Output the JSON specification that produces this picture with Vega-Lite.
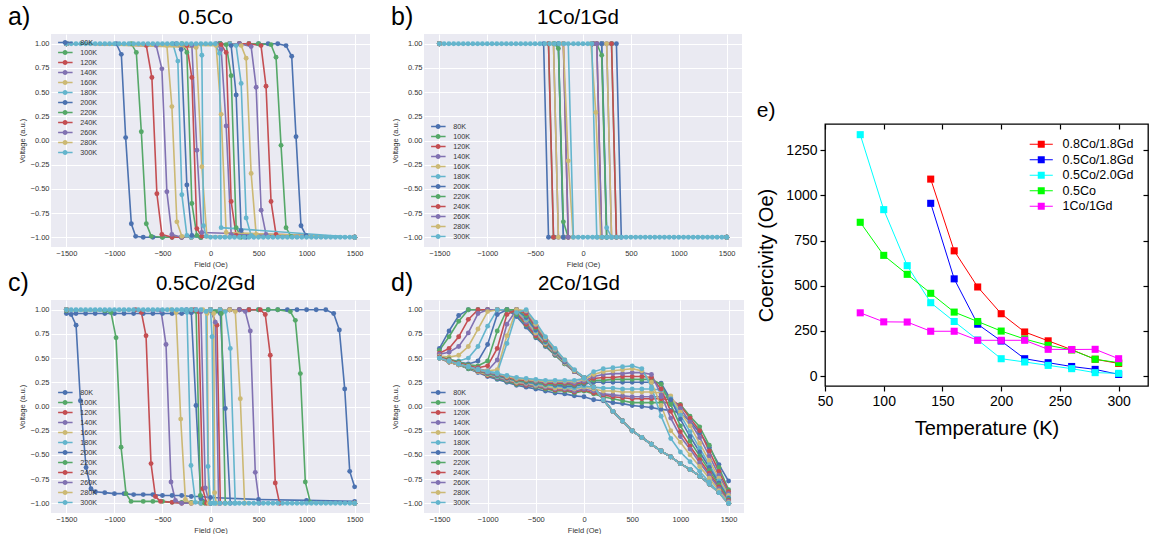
{
"$schema":"https://vega.github.io/schema/vega-lite/v6.json",
"background":"#ffffff",
"padding":{"left":8,"top":4,"right":0,"bottom":0},
"config":{"font":"Liberation Sans","view":{"stroke":null},"title":{"fontWeight":"normal","color":"#000000"},
"axis":{"labelFontSize":7.5,"labelColor":"#333333","titleFontSize":7.5,"titleFontWeight":"normal","titleColor":"#333333","domain":false,"ticks":false,"gridColor":"#ffffff","gridWidth":1,"gridOpacity":1,"labelPadding":2,"titlePadding":4,"labelFlush":false},
"legend":{"labelFont":"Liberation Sans"}},
"resolve":{"scale":{"color":"independent","stroke":"independent"},"legend":{"color":"independent","stroke":"independent"}},
"datasets":{
"a":[
{"t":80,"x":1500,"y":-1},{"t":80,"x":-100,"y":-1},{"t":80,"x":-200,"y":-1},{"t":80,"x":-300,"y":-1},{"t":80,"x":-400,"y":-1},{"t":80,"x":-500,"y":-1},{"t":80,"x":-600,"y":-1},{"t":80,"x":-700,"y":-1},{"t":80,"x":-779,"y":-0.99},{"t":80,"x":-824,"y":-0.86},{"t":80,"x":-883,"y":0.03},{"t":80,"x":-928,"y":0.89},{"t":80,"x":-980,"y":1},{"t":80,"x":-1500,"y":1},{"t":80,"x":100,"y":1},{"t":80,"x":200,"y":1},{"t":80,"x":300,"y":1},{"t":80,"x":400,"y":1},{"t":80,"x":500,"y":1},{"t":80,"x":600,"y":1},{"t":80,"x":700,"y":1},{"t":80,"x":786,"y":0.98},{"t":80,"x":845,"y":0.87},{"t":80,"x":890,"y":0.04},{"t":80,"x":942,"y":-0.88},{"t":80,"x":994,"y":-0.98},{"t":80,"x":1500,"y":-1},
{"t":100,"x":1500,"y":-1},{"t":100,"x":-100,"y":-1},{"t":100,"x":-200,"y":-1},{"t":100,"x":-300,"y":-1},{"t":100,"x":-400,"y":-1},{"t":100,"x":-500,"y":-1},{"t":100,"x":-616,"y":-0.99},{"t":100,"x":-668,"y":-0.86},{"t":100,"x":-720,"y":0.09},{"t":100,"x":-772,"y":0.91},{"t":100,"x":-824,"y":1},{"t":100,"x":-1500,"y":1},{"t":100,"x":100,"y":1},{"t":100,"x":200,"y":1},{"t":100,"x":300,"y":1},{"t":100,"x":400,"y":1},{"t":100,"x":500,"y":1},{"t":100,"x":630,"y":0.99},{"t":100,"x":682,"y":0.86},{"t":100,"x":734,"y":-0.05},{"t":100,"x":786,"y":-0.9},{"t":100,"x":838,"y":-0.99},{"t":100,"x":1500,"y":-1},
{"t":120,"x":1500,"y":-1},{"t":120,"x":-100,"y":-1},{"t":120,"x":-200,"y":-1},{"t":120,"x":-300,"y":-1},{"t":120,"x":-400,"y":-1},{"t":120,"x":-506,"y":-0.97},{"t":120,"x":-558,"y":-0.55},{"t":120,"x":-610,"y":0.65},{"t":120,"x":-668,"y":0.98},{"t":120,"x":-1500,"y":1},{"t":120,"x":100,"y":1},{"t":120,"x":200,"y":1},{"t":120,"x":300,"y":1},{"t":120,"x":400,"y":1},{"t":120,"x":526,"y":0.98},{"t":120,"x":578,"y":0.56},{"t":120,"x":630,"y":-0.63},{"t":120,"x":682,"y":-0.97},{"t":120,"x":1500,"y":-1},
{"t":140,"x":1500,"y":-1},{"t":140,"x":-100,"y":-1},{"t":140,"x":-200,"y":-1},{"t":140,"x":-300,"y":-1},{"t":140,"x":-402,"y":-0.97},{"t":140,"x":-454,"y":-0.53},{"t":140,"x":-506,"y":0.74},{"t":140,"x":-565,"y":0.98},{"t":140,"x":-1500,"y":1},{"t":140,"x":100,"y":1},{"t":140,"x":200,"y":1},{"t":140,"x":300,"y":1},{"t":140,"x":423,"y":0.97},{"t":140,"x":475,"y":0.55},{"t":140,"x":527,"y":-0.72},{"t":140,"x":578,"y":-0.97},{"t":140,"x":1500,"y":-1},
{"t":160,"x":1500,"y":-1},{"t":160,"x":-100,"y":-1},{"t":160,"x":-200,"y":-1},{"t":160,"x":-298,"y":-0.99},{"t":160,"x":-350,"y":-0.84},{"t":160,"x":-402,"y":0.35},{"t":160,"x":-454,"y":0.98},{"t":160,"x":-1500,"y":1},{"t":160,"x":100,"y":1},{"t":160,"x":200,"y":1},{"t":160,"x":320,"y":0.98},{"t":160,"x":371,"y":0.85},{"t":160,"x":423,"y":-0.34},{"t":160,"x":475,"y":-0.97},{"t":160,"x":1500,"y":-1},
{"t":180,"x":1500,"y":-1},{"t":180,"x":-100,"y":-1},{"t":180,"x":-200,"y":-1},{"t":180,"x":-246,"y":-0.98},{"t":180,"x":-298,"y":-0.56},{"t":180,"x":-340,"y":0.82},{"t":180,"x":-392,"y":1},{"t":180,"x":-1500,"y":1},{"t":180,"x":100,"y":1},{"t":180,"x":200,"y":1},{"t":180,"x":267,"y":0.98},{"t":180,"x":319,"y":0.59},{"t":180,"x":371,"y":-0.8},{"t":180,"x":423,"y":-0.98},{"t":180,"x":1500,"y":-1},
{"t":200,"x":1500,"y":-1},{"t":200,"x":-100,"y":-1},{"t":200,"x":-194,"y":-0.98},{"t":200,"x":-246,"y":-0.46},{"t":200,"x":-305,"y":0.94},{"t":200,"x":-355,"y":1},{"t":200,"x":-1500,"y":1},{"t":200,"x":100,"y":1},{"t":200,"x":215,"y":0.98},{"t":200,"x":267,"y":0.47},{"t":200,"x":319,"y":-0.93},{"t":200,"x":371,"y":-1},{"t":200,"x":1500,"y":-1},
{"t":220,"x":1500,"y":-1},{"t":220,"x":-100,"y":-1},{"t":220,"x":-142,"y":-0.98},{"t":220,"x":-194,"y":-0.65},{"t":220,"x":-246,"y":0.91},{"t":220,"x":-298,"y":1},{"t":220,"x":-1500,"y":1},{"t":220,"x":100,"y":1},{"t":220,"x":163,"y":0.99},{"t":220,"x":215,"y":0.67},{"t":220,"x":267,"y":-0.9},{"t":220,"x":319,"y":-1},{"t":220,"x":1500,"y":-1},
{"t":240,"x":1500,"y":-1},{"t":240,"x":-90,"y":-0.99},{"t":240,"x":-142,"y":-0.91},{"t":240,"x":-194,"y":0.65},{"t":240,"x":-246,"y":0.98},{"t":240,"x":-1500,"y":1},{"t":240,"x":111,"y":0.99},{"t":240,"x":163,"y":0.91},{"t":240,"x":215,"y":-0.63},{"t":240,"x":267,"y":-0.98},{"t":240,"x":1500,"y":-1},
{"t":260,"x":1500,"y":-1},{"t":260,"x":-90,"y":-0.95},{"t":260,"x":-142,"y":-0.1},{"t":260,"x":-194,"y":0.98},{"t":260,"x":-1500,"y":1},{"t":260,"x":60,"y":1},{"t":260,"x":111,"y":0.94},{"t":260,"x":163,"y":0.15},{"t":260,"x":215,"y":-0.97},{"t":260,"x":1500,"y":-1},
{"t":280,"x":1500,"y":-1},{"t":280,"x":-38,"y":-0.99},{"t":280,"x":-90,"y":-0.27},{"t":280,"x":-149,"y":0.96},{"t":280,"x":-1500,"y":1},{"t":280,"x":59,"y":0.98},{"t":280,"x":111,"y":0.27},{"t":280,"x":163,"y":-0.95},{"t":280,"x":1500,"y":-1},
{"t":300,"x":1500,"y":-1},{"t":300,"x":1450,"y":-1},{"t":300,"x":1400,"y":-1},{"t":300,"x":1350,"y":-1},{"t":300,"x":1300,"y":-1},{"t":300,"x":1250,"y":-1},{"t":300,"x":1200,"y":-1},{"t":300,"x":1150,"y":-1},{"t":300,"x":1100,"y":-1},{"t":300,"x":1050,"y":-1},{"t":300,"x":1000,"y":-1},{"t":300,"x":950,"y":-1},{"t":300,"x":900,"y":-1},{"t":300,"x":850,"y":-1},{"t":300,"x":800,"y":-1},{"t":300,"x":750,"y":-1},{"t":300,"x":700,"y":-1},{"t":300,"x":650,"y":-1},{"t":300,"x":600,"y":-1},{"t":300,"x":550,"y":-1},{"t":300,"x":500,"y":-1},{"t":300,"x":450,"y":-1},{"t":300,"x":400,"y":-1},{"t":300,"x":350,"y":-1},{"t":300,"x":300,"y":-1},{"t":300,"x":250,"y":-1},{"t":300,"x":200,"y":-1},{"t":300,"x":150,"y":-1},{"t":300,"x":100,"y":-1},{"t":300,"x":50,"y":-1},{"t":300,"x":0,"y":-1},{"t":300,"x":-45,"y":-0.99},{"t":300,"x":-73,"y":-0.88},{"t":300,"x":-90,"y":0.88},{"t":300,"x":-100,"y":1},{"t":300,"x":-150,"y":1},{"t":300,"x":-200,"y":1},{"t":300,"x":-250,"y":1},{"t":300,"x":-300,"y":1},{"t":300,"x":-350,"y":1},{"t":300,"x":-400,"y":1},{"t":300,"x":-450,"y":1},{"t":300,"x":-500,"y":1},{"t":300,"x":-550,"y":1},{"t":300,"x":-600,"y":1},{"t":300,"x":-650,"y":1},{"t":300,"x":-700,"y":1},{"t":300,"x":-750,"y":1},{"t":300,"x":-800,"y":1},{"t":300,"x":-850,"y":1},{"t":300,"x":-900,"y":1},{"t":300,"x":-950,"y":1},{"t":300,"x":-1000,"y":1},{"t":300,"x":-1050,"y":1},{"t":300,"x":-1100,"y":1},{"t":300,"x":-1150,"y":1},{"t":300,"x":-1200,"y":1},{"t":300,"x":-1250,"y":1},{"t":300,"x":-1300,"y":1},{"t":300,"x":-1350,"y":1},{"t":300,"x":-1400,"y":1},{"t":300,"x":-1450,"y":1},{"t":300,"x":-1500,"y":1},{"t":300,"x":-50,"y":1},{"t":300,"x":0,"y":1},{"t":300,"x":50,"y":1},{"t":300,"x":94,"y":0.9},{"t":300,"x":111,"y":-0.9},{"t":300,"x":1500,"y":-1}
],
"b":[
{"t":80,"x":1500,"y":-1},{"t":80,"x":-200,"y":-1},{"t":80,"x":-300,"y":-1},{"t":80,"x":-360,"y":-1},{"t":80,"x":-411,"y":1},{"t":80,"x":-1500,"y":1},{"t":80,"x":100,"y":1},{"t":80,"x":200,"y":1},{"t":80,"x":300,"y":1},{"t":80,"x":349,"y":1},{"t":80,"x":400,"y":-1},{"t":80,"x":1500,"y":-1},
{"t":100,"x":1500,"y":-1},{"t":100,"x":-200,"y":-1},{"t":100,"x":-308,"y":-1},{"t":100,"x":-360,"y":1},{"t":100,"x":-1500,"y":1},{"t":100,"x":100,"y":1},{"t":100,"x":200,"y":1},{"t":100,"x":298,"y":1},{"t":100,"x":349,"y":-1},{"t":100,"x":1500,"y":-1},
{"t":120,"x":1500,"y":-1},{"t":120,"x":-200,"y":-1},{"t":120,"x":-308,"y":-1},{"t":120,"x":-360,"y":1},{"t":120,"x":-1500,"y":1},{"t":120,"x":100,"y":1},{"t":120,"x":200,"y":1},{"t":120,"x":298,"y":1},{"t":120,"x":349,"y":-1},{"t":120,"x":1500,"y":-1},
{"t":140,"x":1500,"y":-1},{"t":140,"x":-200,"y":-1},{"t":140,"x":-257,"y":-1},{"t":140,"x":-308,"y":1},{"t":140,"x":-1500,"y":1},{"t":140,"x":100,"y":1},{"t":140,"x":200,"y":1},{"t":140,"x":247,"y":1},{"t":140,"x":298,"y":-1},{"t":140,"x":1500,"y":-1},
{"t":160,"x":1500,"y":-1},{"t":160,"x":-200,"y":-1},{"t":160,"x":-257,"y":-1},{"t":160,"x":-308,"y":1},{"t":160,"x":-1500,"y":1},{"t":160,"x":100,"y":1},{"t":160,"x":200,"y":1},{"t":160,"x":247,"y":1},{"t":160,"x":298,"y":-1},{"t":160,"x":1500,"y":-1},
{"t":180,"x":1500,"y":-1},{"t":180,"x":-205,"y":-1},{"t":180,"x":-257,"y":1},{"t":180,"x":-1500,"y":1},{"t":180,"x":100,"y":1},{"t":180,"x":195,"y":1},{"t":180,"x":247,"y":-0.9},{"t":180,"x":298,"y":-1},{"t":180,"x":1500,"y":-1},
{"t":200,"x":1500,"y":-1},{"t":200,"x":-205,"y":-1},{"t":200,"x":-257,"y":1},{"t":200,"x":-1500,"y":1},{"t":200,"x":100,"y":1},{"t":200,"x":195,"y":1},{"t":200,"x":247,"y":-1},{"t":200,"x":1500,"y":-1},
{"t":220,"x":1500,"y":-1},{"t":220,"x":-154,"y":-1},{"t":220,"x":-205,"y":-0.84},{"t":220,"x":-257,"y":0.95},{"t":220,"x":-300,"y":1},{"t":220,"x":-1500,"y":1},{"t":220,"x":100,"y":1},{"t":220,"x":144,"y":1},{"t":220,"x":195,"y":0.88},{"t":220,"x":247,"y":-1},{"t":220,"x":1500,"y":-1},
{"t":240,"x":1500,"y":-1},{"t":240,"x":-154,"y":-1},{"t":240,"x":-205,"y":1},{"t":240,"x":-1500,"y":1},{"t":240,"x":100,"y":1},{"t":240,"x":144,"y":1},{"t":240,"x":195,"y":-1},{"t":240,"x":1500,"y":-1},
{"t":260,"x":1500,"y":-1},{"t":260,"x":-154,"y":-1},{"t":260,"x":-205,"y":1},{"t":260,"x":-1500,"y":1},{"t":260,"x":100,"y":1},{"t":260,"x":144,"y":1},{"t":260,"x":195,"y":-1},{"t":260,"x":1500,"y":-1},
{"t":280,"x":1500,"y":-1},{"t":280,"x":-103,"y":-1},{"t":280,"x":-154,"y":-0.21},{"t":280,"x":-205,"y":1},{"t":280,"x":-1500,"y":1},{"t":280,"x":83,"y":1},{"t":280,"x":134,"y":0.29},{"t":280,"x":185,"y":-1},{"t":280,"x":1500,"y":-1},
{"t":300,"x":1500,"y":-1},{"t":300,"x":1450,"y":-1},{"t":300,"x":1400,"y":-1},{"t":300,"x":1350,"y":-1},{"t":300,"x":1300,"y":-1},{"t":300,"x":1250,"y":-1},{"t":300,"x":1200,"y":-1},{"t":300,"x":1150,"y":-1},{"t":300,"x":1100,"y":-1},{"t":300,"x":1050,"y":-1},{"t":300,"x":1000,"y":-1},{"t":300,"x":950,"y":-1},{"t":300,"x":900,"y":-1},{"t":300,"x":850,"y":-1},{"t":300,"x":800,"y":-1},{"t":300,"x":750,"y":-1},{"t":300,"x":700,"y":-1},{"t":300,"x":650,"y":-1},{"t":300,"x":600,"y":-1},{"t":300,"x":550,"y":-1},{"t":300,"x":500,"y":-1},{"t":300,"x":450,"y":-1},{"t":300,"x":400,"y":-1},{"t":300,"x":350,"y":-1},{"t":300,"x":300,"y":-1},{"t":300,"x":250,"y":-1},{"t":300,"x":200,"y":-1},{"t":300,"x":150,"y":-1},{"t":300,"x":100,"y":-1},{"t":300,"x":50,"y":-1},{"t":300,"x":0,"y":-1},{"t":300,"x":-50,"y":-1},{"t":300,"x":-100,"y":-1},{"t":300,"x":-154,"y":1},{"t":300,"x":-200,"y":1},{"t":300,"x":-250,"y":1},{"t":300,"x":-300,"y":1},{"t":300,"x":-350,"y":1},{"t":300,"x":-400,"y":1},{"t":300,"x":-450,"y":1},{"t":300,"x":-500,"y":1},{"t":300,"x":-550,"y":1},{"t":300,"x":-600,"y":1},{"t":300,"x":-650,"y":1},{"t":300,"x":-700,"y":1},{"t":300,"x":-750,"y":1},{"t":300,"x":-800,"y":1},{"t":300,"x":-850,"y":1},{"t":300,"x":-900,"y":1},{"t":300,"x":-950,"y":1},{"t":300,"x":-1000,"y":1},{"t":300,"x":-1050,"y":1},{"t":300,"x":-1100,"y":1},{"t":300,"x":-1150,"y":1},{"t":300,"x":-1200,"y":1},{"t":300,"x":-1250,"y":1},{"t":300,"x":-1300,"y":1},{"t":300,"x":-1350,"y":1},{"t":300,"x":-1400,"y":1},{"t":300,"x":-1450,"y":1},{"t":300,"x":-1500,"y":1},{"t":300,"x":-100,"y":1},{"t":300,"x":-50,"y":1},{"t":300,"x":0,"y":1},{"t":300,"x":50,"y":1},{"t":300,"x":92,"y":1},{"t":300,"x":144,"y":-1},{"t":300,"x":1500,"y":-1}
],
"c":[
{"t":80,"x":1500,"y":-0.98},{"t":80,"x":1000,"y":-0.97},{"t":80,"x":500,"y":-0.96},{"t":80,"x":0,"y":-0.94},{"t":80,"x":-100,"y":-0.93},{"t":80,"x":-200,"y":-0.93},{"t":80,"x":-300,"y":-0.92},{"t":80,"x":-400,"y":-0.92},{"t":80,"x":-500,"y":-0.92},{"t":80,"x":-600,"y":-0.91},{"t":80,"x":-700,"y":-0.91},{"t":80,"x":-800,"y":-0.91},{"t":80,"x":-900,"y":-0.9},{"t":80,"x":-1000,"y":-0.9},{"t":80,"x":-1100,"y":-0.89},{"t":80,"x":-1198,"y":-0.88},{"t":80,"x":-1244,"y":-0.85},{"t":80,"x":-1295,"y":-0.63},{"t":80,"x":-1354,"y":0.06},{"t":80,"x":-1399,"y":0.84},{"t":80,"x":-1450,"y":0.95},{"t":80,"x":-1500,"y":0.96},{"t":80,"x":-1400,"y":0.96},{"t":80,"x":-1300,"y":0.96},{"t":80,"x":-1200,"y":0.96},{"t":80,"x":-1100,"y":0.96},{"t":80,"x":-1000,"y":0.96},{"t":80,"x":-900,"y":0.96},{"t":80,"x":-800,"y":0.96},{"t":80,"x":-700,"y":0.96},{"t":80,"x":-600,"y":0.96},{"t":80,"x":-500,"y":0.96},{"t":80,"x":-400,"y":0.96},{"t":80,"x":-300,"y":0.96},{"t":80,"x":-200,"y":0.97},{"t":80,"x":-100,"y":0.98},{"t":80,"x":0,"y":0.99},{"t":80,"x":100,"y":1},{"t":80,"x":200,"y":1},{"t":80,"x":300,"y":1},{"t":80,"x":400,"y":1},{"t":80,"x":500,"y":1},{"t":80,"x":600,"y":1},{"t":80,"x":700,"y":1},{"t":80,"x":800,"y":1},{"t":80,"x":900,"y":1},{"t":80,"x":1000,"y":1},{"t":80,"x":1100,"y":1},{"t":80,"x":1200,"y":1},{"t":80,"x":1282,"y":0.96},{"t":80,"x":1341,"y":0.79},{"t":80,"x":1397,"y":0.18},{"t":80,"x":1449,"y":-0.67},{"t":80,"x":1500,"y":-0.83},
{"t":100,"x":1500,"y":-1},{"t":100,"x":0,"y":-1},{"t":100,"x":-100,"y":-0.99},{"t":100,"x":-200,"y":-0.99},{"t":100,"x":-300,"y":-0.99},{"t":100,"x":-400,"y":-0.99},{"t":100,"x":-500,"y":-0.98},{"t":100,"x":-600,"y":-0.98},{"t":100,"x":-700,"y":-0.98},{"t":100,"x":-827,"y":-0.98},{"t":100,"x":-879,"y":-0.9},{"t":100,"x":-931,"y":-0.42},{"t":100,"x":-983,"y":0.71},{"t":100,"x":-1035,"y":0.97},{"t":100,"x":-1100,"y":0.99},{"t":100,"x":-1500,"y":0.99},{"t":100,"x":0,"y":1},{"t":100,"x":100,"y":1},{"t":100,"x":200,"y":1},{"t":100,"x":300,"y":1},{"t":100,"x":400,"y":1},{"t":100,"x":500,"y":1},{"t":100,"x":600,"y":1},{"t":100,"x":700,"y":1},{"t":100,"x":831,"y":0.98},{"t":100,"x":883,"y":0.89},{"t":100,"x":935,"y":0.34},{"t":100,"x":987,"y":-0.78},{"t":100,"x":1039,"y":-0.99},{"t":100,"x":1500,"y":-1},
{"t":120,"x":1500,"y":-1},{"t":120,"x":0,"y":-1},{"t":120,"x":-100,"y":-1},{"t":120,"x":-200,"y":-1},{"t":120,"x":-300,"y":-1},{"t":120,"x":-400,"y":-0.99},{"t":120,"x":-520,"y":-0.98},{"t":120,"x":-573,"y":-0.93},{"t":120,"x":-619,"y":-0.59},{"t":120,"x":-671,"y":0.73},{"t":120,"x":-719,"y":0.97},{"t":120,"x":-780,"y":1},{"t":120,"x":-1500,"y":1},{"t":120,"x":0,"y":1},{"t":120,"x":100,"y":1},{"t":120,"x":200,"y":1},{"t":120,"x":300,"y":1},{"t":120,"x":400,"y":1},{"t":120,"x":518,"y":1},{"t":120,"x":570,"y":0.95},{"t":120,"x":622,"y":0.53},{"t":120,"x":674,"y":-0.79},{"t":120,"x":719,"y":-1},{"t":120,"x":1500,"y":-1},
{"t":140,"x":1500,"y":-1},{"t":140,"x":0,"y":-1},{"t":140,"x":-100,"y":-1},{"t":140,"x":-200,"y":-1},{"t":140,"x":-300,"y":-1},{"t":140,"x":-365,"y":-0.97},{"t":140,"x":-411,"y":-0.78},{"t":140,"x":-463,"y":0.64},{"t":140,"x":-515,"y":0.99},{"t":140,"x":-1500,"y":1},{"t":140,"x":0,"y":1},{"t":140,"x":100,"y":1},{"t":140,"x":200,"y":1},{"t":140,"x":300,"y":1},{"t":140,"x":362,"y":0.98},{"t":140,"x":414,"y":0.78},{"t":140,"x":466,"y":-0.68},{"t":140,"x":508,"y":-1},{"t":140,"x":1500,"y":-1},
{"t":160,"x":1500,"y":-1},{"t":160,"x":0,"y":-1},{"t":160,"x":-100,"y":-1},{"t":160,"x":-200,"y":-1},{"t":160,"x":-261,"y":-0.96},{"t":160,"x":-310,"y":-0.13},{"t":160,"x":-358,"y":0.97},{"t":160,"x":-410,"y":1},{"t":160,"x":-1500,"y":1},{"t":160,"x":0,"y":1},{"t":160,"x":100,"y":1},{"t":160,"x":200,"y":1},{"t":160,"x":258,"y":0.98},{"t":160,"x":310,"y":0.08},{"t":160,"x":355,"y":-1},{"t":160,"x":1500,"y":-1},
{"t":180,"x":1500,"y":-1},{"t":180,"x":0,"y":-1},{"t":180,"x":-100,"y":-1},{"t":180,"x":-157,"y":-0.99},{"t":180,"x":-203,"y":-0.61},{"t":180,"x":-245,"y":0.97},{"t":180,"x":-300,"y":1},{"t":180,"x":-1500,"y":1},{"t":180,"x":0,"y":1},{"t":180,"x":100,"y":1},{"t":180,"x":154,"y":0.98},{"t":180,"x":206,"y":0.6},{"t":180,"x":258,"y":-1},{"t":180,"x":1500,"y":-1},
{"t":200,"x":1500,"y":-1},{"t":200,"x":0,"y":-1},{"t":200,"x":-100,"y":-0.95},{"t":200,"x":-151,"y":0.01},{"t":200,"x":-200,"y":0.97},{"t":200,"x":-250,"y":1},{"t":200,"x":-1500,"y":1},{"t":200,"x":0,"y":1},{"t":200,"x":102,"y":0.96},{"t":200,"x":154,"y":-0.02},{"t":200,"x":206,"y":-1},{"t":200,"x":1500,"y":-1},
{"t":220,"x":1500,"y":-1},{"t":220,"x":-60,"y":-1},{"t":220,"x":-106,"y":-0.92},{"t":220,"x":-150,"y":0.98},{"t":220,"x":-200,"y":1},{"t":220,"x":-1500,"y":1},{"t":220,"x":0,"y":1},{"t":220,"x":50,"y":0.98},{"t":220,"x":113,"y":0.96},{"t":220,"x":154,"y":-1},{"t":220,"x":1500,"y":-1},
{"t":240,"x":1500,"y":-1},{"t":240,"x":-40,"y":-1},{"t":240,"x":-81,"y":-0.85},{"t":240,"x":-125,"y":0.98},{"t":240,"x":-170,"y":1},{"t":240,"x":-1500,"y":1},{"t":240,"x":0,"y":1},{"t":240,"x":67,"y":0.84},{"t":240,"x":102,"y":-1},{"t":240,"x":1500,"y":-1},
{"t":260,"x":1500,"y":-1},{"t":260,"x":-10,"y":-1},{"t":260,"x":-54,"y":-0.84},{"t":260,"x":-100,"y":0.98},{"t":260,"x":-150,"y":1},{"t":260,"x":-1500,"y":1},{"t":260,"x":0,"y":1},{"t":260,"x":50,"y":0.87},{"t":260,"x":85,"y":-1},{"t":260,"x":1500,"y":-1},
{"t":280,"x":1500,"y":-1},{"t":280,"x":-19,"y":-1},{"t":280,"x":-36,"y":0.96},{"t":280,"x":-80,"y":1},{"t":280,"x":-1500,"y":1},{"t":280,"x":0,"y":1},{"t":280,"x":33,"y":0.96},{"t":280,"x":43,"y":-0.89},{"t":280,"x":60,"y":-1},{"t":280,"x":1500,"y":-1},
{"t":300,"x":1500,"y":-1},{"t":300,"x":1450,"y":-1},{"t":300,"x":1400,"y":-1},{"t":300,"x":1350,"y":-1},{"t":300,"x":1300,"y":-1},{"t":300,"x":1250,"y":-1},{"t":300,"x":1200,"y":-1},{"t":300,"x":1150,"y":-1},{"t":300,"x":1100,"y":-1},{"t":300,"x":1050,"y":-1},{"t":300,"x":1000,"y":-1},{"t":300,"x":950,"y":-1},{"t":300,"x":900,"y":-1},{"t":300,"x":850,"y":-1},{"t":300,"x":800,"y":-1},{"t":300,"x":750,"y":-1},{"t":300,"x":700,"y":-1},{"t":300,"x":650,"y":-1},{"t":300,"x":600,"y":-1},{"t":300,"x":550,"y":-1},{"t":300,"x":500,"y":-1},{"t":300,"x":450,"y":-1},{"t":300,"x":400,"y":-1},{"t":300,"x":350,"y":-1},{"t":300,"x":300,"y":-1},{"t":300,"x":250,"y":-1},{"t":300,"x":200,"y":-1},{"t":300,"x":150,"y":-1},{"t":300,"x":100,"y":-1},{"t":300,"x":50,"y":-1},{"t":300,"x":0,"y":-1},{"t":300,"x":-26,"y":-0.62},{"t":300,"x":-47,"y":0.98},{"t":300,"x":-100,"y":1},{"t":300,"x":-150,"y":1},{"t":300,"x":-200,"y":1},{"t":300,"x":-250,"y":1},{"t":300,"x":-300,"y":1},{"t":300,"x":-350,"y":1},{"t":300,"x":-400,"y":1},{"t":300,"x":-450,"y":1},{"t":300,"x":-500,"y":1},{"t":300,"x":-550,"y":1},{"t":300,"x":-600,"y":1},{"t":300,"x":-650,"y":1},{"t":300,"x":-700,"y":1},{"t":300,"x":-750,"y":1},{"t":300,"x":-800,"y":1},{"t":300,"x":-850,"y":1},{"t":300,"x":-900,"y":1},{"t":300,"x":-950,"y":1},{"t":300,"x":-1000,"y":1},{"t":300,"x":-1050,"y":1},{"t":300,"x":-1100,"y":1},{"t":300,"x":-1150,"y":1},{"t":300,"x":-1200,"y":1},{"t":300,"x":-1250,"y":1},{"t":300,"x":-1300,"y":1},{"t":300,"x":-1350,"y":1},{"t":300,"x":-1400,"y":1},{"t":300,"x":-1450,"y":1},{"t":300,"x":-1500,"y":1},{"t":300,"x":0,"y":1},{"t":300,"x":16,"y":0.72},{"t":300,"x":33,"y":-1},{"t":300,"x":1500,"y":-1}
],
"d":[
{"t":80,"x":1500,"y":-0.77},{"t":80,"x":1400,"y":-0.6},{"t":80,"x":1300,"y":-0.42},{"t":80,"x":1200,"y":-0.27},{"t":80,"x":1100,"y":-0.15},{"t":80,"x":1000,"y":-0.07},{"t":80,"x":900,"y":-0.04},{"t":80,"x":800,"y":-0.03},{"t":80,"x":700,"y":-0.01},{"t":80,"x":600,"y":0},{"t":80,"x":500,"y":0.01},{"t":80,"x":400,"y":0.03},{"t":80,"x":300,"y":0.04},{"t":80,"x":200,"y":0.06},{"t":80,"x":100,"y":0.07},{"t":80,"x":0,"y":0.1},{"t":80,"x":-100,"y":0.11},{"t":80,"x":-200,"y":0.13},{"t":80,"x":-300,"y":0.14},{"t":80,"x":-400,"y":0.16},{"t":80,"x":-500,"y":0.18},{"t":80,"x":-600,"y":0.2},{"t":80,"x":-700,"y":0.22},{"t":80,"x":-800,"y":0.25},{"t":80,"x":-900,"y":0.28},{"t":80,"x":-1000,"y":0.31},{"t":80,"x":-1100,"y":0.35},{"t":80,"x":-1200,"y":0.39},{"t":80,"x":-1300,"y":0.43},{"t":80,"x":-1400,"y":0.46},{"t":80,"x":-1500,"y":0.5},
{"t":80,"x":-1500,"y":0.6},{"t":80,"x":-1400,"y":0.78},{"t":80,"x":-1300,"y":0.94},{"t":80,"x":-1200,"y":1},{"t":80,"x":-1100,"y":1},{"t":80,"x":-1000,"y":1},{"t":80,"x":-900,"y":1},{"t":80,"x":-800,"y":1},{"t":80,"x":-700,"y":0.93},{"t":80,"x":-600,"y":0.82},{"t":80,"x":-500,"y":0.71},{"t":80,"x":-400,"y":0.62},{"t":80,"x":-300,"y":0.53},{"t":80,"x":-200,"y":0.44},{"t":80,"x":-100,"y":0.36},{"t":80,"x":0,"y":0.3},{"t":80,"x":100,"y":0.2},{"t":80,"x":200,"y":0.07},{"t":80,"x":300,"y":-0.05},{"t":80,"x":400,"y":-0.15},{"t":80,"x":500,"y":-0.25},{"t":80,"x":600,"y":-0.32},{"t":80,"x":700,"y":-0.39},{"t":80,"x":800,"y":-0.46},{"t":80,"x":900,"y":-0.52},{"t":80,"x":1000,"y":-0.59},{"t":80,"x":1100,"y":-0.65},{"t":80,"x":1200,"y":-0.72},{"t":80,"x":1300,"y":-0.8},{"t":80,"x":1400,"y":-0.89},{"t":80,"x":1500,"y":-1},
{"t":100,"x":1500,"y":-0.86},{"t":100,"x":1400,"y":-0.63},{"t":100,"x":1300,"y":-0.4},{"t":100,"x":1200,"y":-0.21},{"t":100,"x":1100,"y":-0.1},{"t":100,"x":1000,"y":0.02},{"t":100,"x":900,"y":0.04},{"t":100,"x":800,"y":0.04},{"t":100,"x":700,"y":0.04},{"t":100,"x":600,"y":0.04},{"t":100,"x":500,"y":0.04},{"t":100,"x":400,"y":0.06},{"t":100,"x":300,"y":0.08},{"t":100,"x":200,"y":0.1},{"t":100,"x":100,"y":0.13},{"t":100,"x":0,"y":0.16},{"t":100,"x":-100,"y":0.14},{"t":100,"x":-200,"y":0.16},{"t":100,"x":-300,"y":0.16},{"t":100,"x":-400,"y":0.18},{"t":100,"x":-500,"y":0.2},{"t":100,"x":-600,"y":0.22},{"t":100,"x":-700,"y":0.23},{"t":100,"x":-800,"y":0.26},{"t":100,"x":-900,"y":0.29},{"t":100,"x":-1000,"y":0.32},{"t":100,"x":-1100,"y":0.36},{"t":100,"x":-1200,"y":0.39},{"t":100,"x":-1300,"y":0.43},{"t":100,"x":-1400,"y":0.46},{"t":100,"x":-1500,"y":0.5},
{"t":100,"x":-1500,"y":0.58},{"t":100,"x":-1400,"y":0.72},{"t":100,"x":-1300,"y":0.88},{"t":100,"x":-1200,"y":1},{"t":100,"x":-1100,"y":1},{"t":100,"x":-1000,"y":1},{"t":100,"x":-900,"y":1},{"t":100,"x":-800,"y":1},{"t":100,"x":-700,"y":0.95},{"t":100,"x":-600,"y":0.84},{"t":100,"x":-500,"y":0.72},{"t":100,"x":-400,"y":0.63},{"t":100,"x":-300,"y":0.53},{"t":100,"x":-200,"y":0.44},{"t":100,"x":-100,"y":0.36},{"t":100,"x":0,"y":0.3},{"t":100,"x":100,"y":0.2},{"t":100,"x":200,"y":0.07},{"t":100,"x":300,"y":-0.05},{"t":100,"x":400,"y":-0.15},{"t":100,"x":500,"y":-0.25},{"t":100,"x":600,"y":-0.32},{"t":100,"x":700,"y":-0.39},{"t":100,"x":800,"y":-0.46},{"t":100,"x":900,"y":-0.52},{"t":100,"x":1000,"y":-0.59},{"t":100,"x":1100,"y":-0.65},{"t":100,"x":1200,"y":-0.72},{"t":100,"x":1300,"y":-0.8},{"t":100,"x":1400,"y":-0.89},{"t":100,"x":1500,"y":-1},
{"t":120,"x":1500,"y":-0.88},{"t":120,"x":1400,"y":-0.67},{"t":120,"x":1300,"y":-0.46},{"t":120,"x":1200,"y":-0.25},{"t":120,"x":1100,"y":-0.12},{"t":120,"x":1000,"y":0.01},{"t":120,"x":900,"y":0.07},{"t":120,"x":800,"y":0.08},{"t":120,"x":700,"y":0.08},{"t":120,"x":600,"y":0.08},{"t":120,"x":500,"y":0.08},{"t":120,"x":400,"y":0.09},{"t":120,"x":300,"y":0.1},{"t":120,"x":200,"y":0.12},{"t":120,"x":100,"y":0.14},{"t":120,"x":0,"y":0.17},{"t":120,"x":-100,"y":0.15},{"t":120,"x":-200,"y":0.17},{"t":120,"x":-300,"y":0.17},{"t":120,"x":-400,"y":0.19},{"t":120,"x":-500,"y":0.21},{"t":120,"x":-600,"y":0.22},{"t":120,"x":-700,"y":0.24},{"t":120,"x":-800,"y":0.27},{"t":120,"x":-900,"y":0.3},{"t":120,"x":-1000,"y":0.32},{"t":120,"x":-1100,"y":0.36},{"t":120,"x":-1200,"y":0.4},{"t":120,"x":-1300,"y":0.43},{"t":120,"x":-1400,"y":0.46},{"t":120,"x":-1500,"y":0.5},
{"t":120,"x":-1500,"y":0.55},{"t":120,"x":-1400,"y":0.6},{"t":120,"x":-1300,"y":0.72},{"t":120,"x":-1200,"y":0.9},{"t":120,"x":-1100,"y":1},{"t":120,"x":-1000,"y":1},{"t":120,"x":-900,"y":1},{"t":120,"x":-800,"y":1},{"t":120,"x":-700,"y":0.97},{"t":120,"x":-600,"y":0.85},{"t":120,"x":-500,"y":0.73},{"t":120,"x":-400,"y":0.64},{"t":120,"x":-300,"y":0.54},{"t":120,"x":-200,"y":0.45},{"t":120,"x":-100,"y":0.36},{"t":120,"x":0,"y":0.3},{"t":120,"x":100,"y":0.2},{"t":120,"x":200,"y":0.07},{"t":120,"x":300,"y":-0.05},{"t":120,"x":400,"y":-0.15},{"t":120,"x":500,"y":-0.25},{"t":120,"x":600,"y":-0.32},{"t":120,"x":700,"y":-0.39},{"t":120,"x":800,"y":-0.46},{"t":120,"x":900,"y":-0.52},{"t":120,"x":1000,"y":-0.59},{"t":120,"x":1100,"y":-0.65},{"t":120,"x":1200,"y":-0.72},{"t":120,"x":1300,"y":-0.8},{"t":120,"x":1400,"y":-0.89},{"t":120,"x":1500,"y":-1},
{"t":140,"x":1500,"y":-0.9},{"t":140,"x":1400,"y":-0.71},{"t":140,"x":1300,"y":-0.51},{"t":140,"x":1200,"y":-0.32},{"t":140,"x":1100,"y":-0.16},{"t":140,"x":1000,"y":-0.02},{"t":140,"x":900,"y":0.09},{"t":140,"x":800,"y":0.1},{"t":140,"x":700,"y":0.1},{"t":140,"x":600,"y":0.1},{"t":140,"x":500,"y":0.1},{"t":140,"x":400,"y":0.11},{"t":140,"x":300,"y":0.12},{"t":140,"x":200,"y":0.13},{"t":140,"x":100,"y":0.16},{"t":140,"x":0,"y":0.18},{"t":140,"x":-100,"y":0.16},{"t":140,"x":-200,"y":0.18},{"t":140,"x":-300,"y":0.18},{"t":140,"x":-400,"y":0.2},{"t":140,"x":-500,"y":0.21},{"t":140,"x":-600,"y":0.23},{"t":140,"x":-700,"y":0.25},{"t":140,"x":-800,"y":0.27},{"t":140,"x":-900,"y":0.3},{"t":140,"x":-1000,"y":0.33},{"t":140,"x":-1100,"y":0.36},{"t":140,"x":-1200,"y":0.4},{"t":140,"x":-1300,"y":0.43},{"t":140,"x":-1400,"y":0.46},{"t":140,"x":-1500,"y":0.5},
{"t":140,"x":-1500,"y":0.54},{"t":140,"x":-1400,"y":0.56},{"t":140,"x":-1300,"y":0.62},{"t":140,"x":-1200,"y":0.76},{"t":140,"x":-1100,"y":0.96},{"t":140,"x":-1000,"y":1},{"t":140,"x":-900,"y":1},{"t":140,"x":-800,"y":1},{"t":140,"x":-700,"y":0.99},{"t":140,"x":-600,"y":0.87},{"t":140,"x":-500,"y":0.75},{"t":140,"x":-400,"y":0.65},{"t":140,"x":-300,"y":0.54},{"t":140,"x":-200,"y":0.45},{"t":140,"x":-100,"y":0.36},{"t":140,"x":0,"y":0.3},{"t":140,"x":100,"y":0.2},{"t":140,"x":200,"y":0.07},{"t":140,"x":300,"y":-0.05},{"t":140,"x":400,"y":-0.15},{"t":140,"x":500,"y":-0.25},{"t":140,"x":600,"y":-0.32},{"t":140,"x":700,"y":-0.39},{"t":140,"x":800,"y":-0.46},{"t":140,"x":900,"y":-0.52},{"t":140,"x":1000,"y":-0.59},{"t":140,"x":1100,"y":-0.65},{"t":140,"x":1200,"y":-0.72},{"t":140,"x":1300,"y":-0.8},{"t":140,"x":1400,"y":-0.89},{"t":140,"x":1500,"y":-1},
{"t":160,"x":1500,"y":-0.92},{"t":160,"x":1400,"y":-0.74},{"t":160,"x":1300,"y":-0.56},{"t":160,"x":1200,"y":-0.38},{"t":160,"x":1100,"y":-0.2},{"t":160,"x":1000,"y":-0.06},{"t":160,"x":900,"y":0.11},{"t":160,"x":800,"y":0.14},{"t":160,"x":700,"y":0.15},{"t":160,"x":600,"y":0.15},{"t":160,"x":500,"y":0.15},{"t":160,"x":400,"y":0.15},{"t":160,"x":300,"y":0.16},{"t":160,"x":200,"y":0.16},{"t":160,"x":100,"y":0.18},{"t":160,"x":0,"y":0.2},{"t":160,"x":-100,"y":0.18},{"t":160,"x":-200,"y":0.19},{"t":160,"x":-300,"y":0.19},{"t":160,"x":-400,"y":0.21},{"t":160,"x":-500,"y":0.22},{"t":160,"x":-600,"y":0.24},{"t":160,"x":-700,"y":0.25},{"t":160,"x":-800,"y":0.28},{"t":160,"x":-900,"y":0.31},{"t":160,"x":-1000,"y":0.33},{"t":160,"x":-1100,"y":0.36},{"t":160,"x":-1200,"y":0.4},{"t":160,"x":-1300,"y":0.43},{"t":160,"x":-1400,"y":0.46},{"t":160,"x":-1500,"y":0.5},
{"t":160,"x":-1500,"y":0.52},{"t":160,"x":-1400,"y":0.51},{"t":160,"x":-1300,"y":0.53},{"t":160,"x":-1200,"y":0.62},{"t":160,"x":-1100,"y":0.8},{"t":160,"x":-1000,"y":0.98},{"t":160,"x":-900,"y":1},{"t":160,"x":-800,"y":1},{"t":160,"x":-700,"y":0.99},{"t":160,"x":-600,"y":0.89},{"t":160,"x":-500,"y":0.76},{"t":160,"x":-400,"y":0.65},{"t":160,"x":-300,"y":0.55},{"t":160,"x":-200,"y":0.45},{"t":160,"x":-100,"y":0.37},{"t":160,"x":0,"y":0.3},{"t":160,"x":100,"y":0.2},{"t":160,"x":200,"y":0.07},{"t":160,"x":300,"y":-0.05},{"t":160,"x":400,"y":-0.15},{"t":160,"x":500,"y":-0.25},{"t":160,"x":600,"y":-0.32},{"t":160,"x":700,"y":-0.39},{"t":160,"x":800,"y":-0.46},{"t":160,"x":900,"y":-0.52},{"t":160,"x":1000,"y":-0.59},{"t":160,"x":1100,"y":-0.65},{"t":160,"x":1200,"y":-0.72},{"t":160,"x":1300,"y":-0.8},{"t":160,"x":1400,"y":-0.89},{"t":160,"x":1500,"y":-1},
{"t":180,"x":1500,"y":-0.94},{"t":180,"x":1400,"y":-0.77},{"t":180,"x":1300,"y":-0.6},{"t":180,"x":1200,"y":-0.43},{"t":180,"x":1100,"y":-0.26},{"t":180,"x":1000,"y":-0.09},{"t":180,"x":900,"y":0.08},{"t":180,"x":800,"y":0.17},{"t":180,"x":700,"y":0.18},{"t":180,"x":600,"y":0.18},{"t":180,"x":500,"y":0.18},{"t":180,"x":400,"y":0.18},{"t":180,"x":300,"y":0.19},{"t":180,"x":200,"y":0.19},{"t":180,"x":100,"y":0.2},{"t":180,"x":0,"y":0.21},{"t":180,"x":-100,"y":0.19},{"t":180,"x":-200,"y":0.2},{"t":180,"x":-300,"y":0.21},{"t":180,"x":-400,"y":0.22},{"t":180,"x":-500,"y":0.23},{"t":180,"x":-600,"y":0.25},{"t":180,"x":-700,"y":0.26},{"t":180,"x":-800,"y":0.29},{"t":180,"x":-900,"y":0.31},{"t":180,"x":-1000,"y":0.34},{"t":180,"x":-1100,"y":0.37},{"t":180,"x":-1200,"y":0.4},{"t":180,"x":-1300,"y":0.44},{"t":180,"x":-1400,"y":0.47},{"t":180,"x":-1500,"y":0.5},
{"t":180,"x":-1500,"y":0.51},{"t":180,"x":-1400,"y":0.48},{"t":180,"x":-1300,"y":0.47},{"t":180,"x":-1200,"y":0.5},{"t":180,"x":-1100,"y":0.62},{"t":180,"x":-1000,"y":0.83},{"t":180,"x":-900,"y":1},{"t":180,"x":-800,"y":1},{"t":180,"x":-700,"y":1},{"t":180,"x":-600,"y":0.9},{"t":180,"x":-500,"y":0.78},{"t":180,"x":-400,"y":0.66},{"t":180,"x":-300,"y":0.56},{"t":180,"x":-200,"y":0.46},{"t":180,"x":-100,"y":0.37},{"t":180,"x":0,"y":0.3},{"t":180,"x":100,"y":0.2},{"t":180,"x":200,"y":0.07},{"t":180,"x":300,"y":-0.05},{"t":180,"x":400,"y":-0.15},{"t":180,"x":500,"y":-0.25},{"t":180,"x":600,"y":-0.32},{"t":180,"x":700,"y":-0.39},{"t":180,"x":800,"y":-0.46},{"t":180,"x":900,"y":-0.52},{"t":180,"x":1000,"y":-0.59},{"t":180,"x":1100,"y":-0.65},{"t":180,"x":1200,"y":-0.72},{"t":180,"x":1300,"y":-0.8},{"t":180,"x":1400,"y":-0.89},{"t":180,"x":1500,"y":-1},
{"t":200,"x":1500,"y":-0.95},{"t":200,"x":1400,"y":-0.79},{"t":200,"x":1300,"y":-0.63},{"t":200,"x":1200,"y":-0.47},{"t":200,"x":1100,"y":-0.31},{"t":200,"x":1000,"y":-0.13},{"t":200,"x":900,"y":0.07},{"t":200,"x":800,"y":0.24},{"t":200,"x":700,"y":0.25},{"t":200,"x":600,"y":0.25},{"t":200,"x":500,"y":0.25},{"t":200,"x":400,"y":0.25},{"t":200,"x":300,"y":0.25},{"t":200,"x":200,"y":0.25},{"t":200,"x":100,"y":0.25},{"t":200,"x":0,"y":0.23},{"t":200,"x":-100,"y":0.21},{"t":200,"x":-200,"y":0.21},{"t":200,"x":-300,"y":0.22},{"t":200,"x":-400,"y":0.23},{"t":200,"x":-500,"y":0.24},{"t":200,"x":-600,"y":0.25},{"t":200,"x":-700,"y":0.27},{"t":200,"x":-800,"y":0.29},{"t":200,"x":-900,"y":0.32},{"t":200,"x":-1000,"y":0.34},{"t":200,"x":-1100,"y":0.37},{"t":200,"x":-1200,"y":0.4},{"t":200,"x":-1300,"y":0.44},{"t":200,"x":-1400,"y":0.47},{"t":200,"x":-1500,"y":0.5},
{"t":200,"x":-1500,"y":0.51},{"t":200,"x":-1400,"y":0.48},{"t":200,"x":-1300,"y":0.46},{"t":200,"x":-1200,"y":0.44},{"t":200,"x":-1100,"y":0.47},{"t":200,"x":-1000,"y":0.64},{"t":200,"x":-900,"y":0.95},{"t":200,"x":-800,"y":1},{"t":200,"x":-700,"y":1},{"t":200,"x":-600,"y":0.92},{"t":200,"x":-500,"y":0.79},{"t":200,"x":-400,"y":0.67},{"t":200,"x":-300,"y":0.56},{"t":200,"x":-200,"y":0.46},{"t":200,"x":-100,"y":0.37},{"t":200,"x":0,"y":0.3},{"t":200,"x":100,"y":0.2},{"t":200,"x":200,"y":0.07},{"t":200,"x":300,"y":-0.05},{"t":200,"x":400,"y":-0.15},{"t":200,"x":500,"y":-0.25},{"t":200,"x":600,"y":-0.32},{"t":200,"x":700,"y":-0.39},{"t":200,"x":800,"y":-0.46},{"t":200,"x":900,"y":-0.52},{"t":200,"x":1000,"y":-0.59},{"t":200,"x":1100,"y":-0.65},{"t":200,"x":1200,"y":-0.72},{"t":200,"x":1300,"y":-0.8},{"t":200,"x":1400,"y":-0.89},{"t":200,"x":1500,"y":-1},
{"t":220,"x":1500,"y":-0.96},{"t":220,"x":1400,"y":-0.81},{"t":220,"x":1300,"y":-0.66},{"t":220,"x":1200,"y":-0.51},{"t":220,"x":1100,"y":-0.36},{"t":220,"x":1000,"y":-0.2},{"t":220,"x":900,"y":0.02},{"t":220,"x":800,"y":0.23},{"t":220,"x":700,"y":0.28},{"t":220,"x":600,"y":0.28},{"t":220,"x":500,"y":0.28},{"t":220,"x":400,"y":0.28},{"t":220,"x":300,"y":0.28},{"t":220,"x":200,"y":0.27},{"t":220,"x":100,"y":0.27},{"t":220,"x":0,"y":0.24},{"t":220,"x":-100,"y":0.22},{"t":220,"x":-200,"y":0.23},{"t":220,"x":-300,"y":0.23},{"t":220,"x":-400,"y":0.23},{"t":220,"x":-500,"y":0.25},{"t":220,"x":-600,"y":0.26},{"t":220,"x":-700,"y":0.27},{"t":220,"x":-800,"y":0.3},{"t":220,"x":-900,"y":0.32},{"t":220,"x":-1000,"y":0.34},{"t":220,"x":-1100,"y":0.37},{"t":220,"x":-1200,"y":0.4},{"t":220,"x":-1300,"y":0.44},{"t":220,"x":-1400,"y":0.47},{"t":220,"x":-1500,"y":0.5},
{"t":220,"x":-1500,"y":0.51},{"t":220,"x":-1400,"y":0.49},{"t":220,"x":-1300,"y":0.46},{"t":220,"x":-1200,"y":0.43},{"t":220,"x":-1100,"y":0.42},{"t":220,"x":-1000,"y":0.47},{"t":220,"x":-900,"y":0.78},{"t":220,"x":-800,"y":1},{"t":220,"x":-700,"y":1},{"t":220,"x":-600,"y":0.94},{"t":220,"x":-500,"y":0.81},{"t":220,"x":-400,"y":0.68},{"t":220,"x":-300,"y":0.57},{"t":220,"x":-200,"y":0.47},{"t":220,"x":-100,"y":0.37},{"t":220,"x":0,"y":0.3},{"t":220,"x":100,"y":0.2},{"t":220,"x":200,"y":0.07},{"t":220,"x":300,"y":-0.05},{"t":220,"x":400,"y":-0.15},{"t":220,"x":500,"y":-0.25},{"t":220,"x":600,"y":-0.32},{"t":220,"x":700,"y":-0.39},{"t":220,"x":800,"y":-0.46},{"t":220,"x":900,"y":-0.52},{"t":220,"x":1000,"y":-0.59},{"t":220,"x":1100,"y":-0.65},{"t":220,"x":1200,"y":-0.72},{"t":220,"x":1300,"y":-0.8},{"t":220,"x":1400,"y":-0.89},{"t":220,"x":1500,"y":-1},
{"t":240,"x":1500,"y":-0.97},{"t":240,"x":1400,"y":-0.83},{"t":240,"x":1300,"y":-0.69},{"t":240,"x":1200,"y":-0.55},{"t":240,"x":1100,"y":-0.41},{"t":240,"x":1000,"y":-0.26},{"t":240,"x":900,"y":-0.05},{"t":240,"x":800,"y":0.18},{"t":240,"x":700,"y":0.3},{"t":240,"x":600,"y":0.31},{"t":240,"x":500,"y":0.31},{"t":240,"x":400,"y":0.31},{"t":240,"x":300,"y":0.3},{"t":240,"x":200,"y":0.3},{"t":240,"x":100,"y":0.29},{"t":240,"x":0,"y":0.25},{"t":240,"x":-100,"y":0.23},{"t":240,"x":-200,"y":0.24},{"t":240,"x":-300,"y":0.24},{"t":240,"x":-400,"y":0.24},{"t":240,"x":-500,"y":0.26},{"t":240,"x":-600,"y":0.27},{"t":240,"x":-700,"y":0.28},{"t":240,"x":-800,"y":0.3},{"t":240,"x":-900,"y":0.33},{"t":240,"x":-1000,"y":0.35},{"t":240,"x":-1100,"y":0.37},{"t":240,"x":-1200,"y":0.41},{"t":240,"x":-1300,"y":0.44},{"t":240,"x":-1400,"y":0.47},{"t":240,"x":-1500,"y":0.5},
{"t":240,"x":-1500,"y":0.51},{"t":240,"x":-1400,"y":0.48},{"t":240,"x":-1300,"y":0.45},{"t":240,"x":-1200,"y":0.42},{"t":240,"x":-1100,"y":0.4},{"t":240,"x":-1000,"y":0.42},{"t":240,"x":-900,"y":0.6},{"t":240,"x":-800,"y":0.95},{"t":240,"x":-700,"y":1},{"t":240,"x":-600,"y":0.96},{"t":240,"x":-500,"y":0.82},{"t":240,"x":-400,"y":0.69},{"t":240,"x":-300,"y":0.58},{"t":240,"x":-200,"y":0.47},{"t":240,"x":-100,"y":0.37},{"t":240,"x":0,"y":0.3},{"t":240,"x":100,"y":0.2},{"t":240,"x":200,"y":0.07},{"t":240,"x":300,"y":-0.05},{"t":240,"x":400,"y":-0.15},{"t":240,"x":500,"y":-0.25},{"t":240,"x":600,"y":-0.32},{"t":240,"x":700,"y":-0.39},{"t":240,"x":800,"y":-0.46},{"t":240,"x":900,"y":-0.52},{"t":240,"x":1000,"y":-0.59},{"t":240,"x":1100,"y":-0.65},{"t":240,"x":1200,"y":-0.72},{"t":240,"x":1300,"y":-0.8},{"t":240,"x":1400,"y":-0.89},{"t":240,"x":1500,"y":-1},
{"t":260,"x":1500,"y":-0.98},{"t":260,"x":1400,"y":-0.85},{"t":260,"x":1300,"y":-0.71},{"t":260,"x":1200,"y":-0.58},{"t":260,"x":1100,"y":-0.44},{"t":260,"x":1000,"y":-0.31},{"t":260,"x":900,"y":-0.12},{"t":260,"x":800,"y":0.12},{"t":260,"x":700,"y":0.33},{"t":260,"x":600,"y":0.35},{"t":260,"x":500,"y":0.35},{"t":260,"x":400,"y":0.34},{"t":260,"x":300,"y":0.34},{"t":260,"x":200,"y":0.33},{"t":260,"x":100,"y":0.31},{"t":260,"x":0,"y":0.26},{"t":260,"x":-100,"y":0.24},{"t":260,"x":-200,"y":0.25},{"t":260,"x":-300,"y":0.25},{"t":260,"x":-400,"y":0.25},{"t":260,"x":-500,"y":0.26},{"t":260,"x":-600,"y":0.28},{"t":260,"x":-700,"y":0.29},{"t":260,"x":-800,"y":0.31},{"t":260,"x":-900,"y":0.33},{"t":260,"x":-1000,"y":0.35},{"t":260,"x":-1100,"y":0.38},{"t":260,"x":-1200,"y":0.41},{"t":260,"x":-1300,"y":0.44},{"t":260,"x":-1400,"y":0.47},{"t":260,"x":-1500,"y":0.5},
{"t":260,"x":-1500,"y":0.5},{"t":260,"x":-1400,"y":0.47},{"t":260,"x":-1300,"y":0.44},{"t":260,"x":-1200,"y":0.41},{"t":260,"x":-1100,"y":0.39},{"t":260,"x":-1000,"y":0.37},{"t":260,"x":-900,"y":0.48},{"t":260,"x":-800,"y":0.85},{"t":260,"x":-700,"y":1},{"t":260,"x":-600,"y":0.98},{"t":260,"x":-500,"y":0.84},{"t":260,"x":-400,"y":0.7},{"t":260,"x":-300,"y":0.58},{"t":260,"x":-200,"y":0.47},{"t":260,"x":-100,"y":0.37},{"t":260,"x":0,"y":0.3},{"t":260,"x":100,"y":0.2},{"t":260,"x":200,"y":0.07},{"t":260,"x":300,"y":-0.05},{"t":260,"x":400,"y":-0.15},{"t":260,"x":500,"y":-0.25},{"t":260,"x":600,"y":-0.32},{"t":260,"x":700,"y":-0.39},{"t":260,"x":800,"y":-0.46},{"t":260,"x":900,"y":-0.52},{"t":260,"x":1000,"y":-0.59},{"t":260,"x":1100,"y":-0.65},{"t":260,"x":1200,"y":-0.72},{"t":260,"x":1300,"y":-0.8},{"t":260,"x":1400,"y":-0.89},{"t":260,"x":1500,"y":-1},
{"t":280,"x":1500,"y":-0.99},{"t":280,"x":1400,"y":-0.87},{"t":280,"x":1300,"y":-0.74},{"t":280,"x":1200,"y":-0.62},{"t":280,"x":1100,"y":-0.5},{"t":280,"x":1000,"y":-0.37},{"t":280,"x":900,"y":-0.25},{"t":280,"x":800,"y":0.01},{"t":280,"x":700,"y":0.25},{"t":280,"x":600,"y":0.37},{"t":280,"x":500,"y":0.39},{"t":280,"x":400,"y":0.38},{"t":280,"x":300,"y":0.37},{"t":280,"x":200,"y":0.36},{"t":280,"x":100,"y":0.33},{"t":280,"x":0,"y":0.28},{"t":280,"x":-100,"y":0.26},{"t":280,"x":-200,"y":0.26},{"t":280,"x":-300,"y":0.26},{"t":280,"x":-400,"y":0.26},{"t":280,"x":-500,"y":0.27},{"t":280,"x":-600,"y":0.28},{"t":280,"x":-700,"y":0.29},{"t":280,"x":-800,"y":0.31},{"t":280,"x":-900,"y":0.34},{"t":280,"x":-1000,"y":0.36},{"t":280,"x":-1100,"y":0.38},{"t":280,"x":-1200,"y":0.41},{"t":280,"x":-1300,"y":0.44},{"t":280,"x":-1400,"y":0.47},{"t":280,"x":-1500,"y":0.5},
{"t":280,"x":-1500,"y":0.5},{"t":280,"x":-1400,"y":0.47},{"t":280,"x":-1300,"y":0.44},{"t":280,"x":-1200,"y":0.41},{"t":280,"x":-1100,"y":0.38},{"t":280,"x":-1000,"y":0.37},{"t":280,"x":-900,"y":0.38},{"t":280,"x":-800,"y":0.73},{"t":280,"x":-700,"y":1},{"t":280,"x":-600,"y":0.99},{"t":280,"x":-500,"y":0.85},{"t":280,"x":-400,"y":0.71},{"t":280,"x":-300,"y":0.59},{"t":280,"x":-200,"y":0.48},{"t":280,"x":-100,"y":0.37},{"t":280,"x":0,"y":0.3},{"t":280,"x":100,"y":0.2},{"t":280,"x":200,"y":0.07},{"t":280,"x":300,"y":-0.05},{"t":280,"x":400,"y":-0.15},{"t":280,"x":500,"y":-0.25},{"t":280,"x":600,"y":-0.32},{"t":280,"x":700,"y":-0.39},{"t":280,"x":800,"y":-0.46},{"t":280,"x":900,"y":-0.52},{"t":280,"x":1000,"y":-0.59},{"t":280,"x":1100,"y":-0.65},{"t":280,"x":1200,"y":-0.72},{"t":280,"x":1300,"y":-0.8},{"t":280,"x":1400,"y":-0.89},{"t":280,"x":1500,"y":-1},
{"t":300,"x":1500,"y":-1},{"t":300,"x":1400,"y":-0.89},{"t":300,"x":1300,"y":-0.78},{"t":300,"x":1200,"y":-0.67},{"t":300,"x":1100,"y":-0.57},{"t":300,"x":1000,"y":-0.47},{"t":300,"x":900,"y":-0.33},{"t":300,"x":800,"y":-0.1},{"t":300,"x":700,"y":0.2},{"t":300,"x":600,"y":0.39},{"t":300,"x":500,"y":0.42},{"t":300,"x":400,"y":0.41},{"t":300,"x":300,"y":0.4},{"t":300,"x":200,"y":0.39},{"t":300,"x":100,"y":0.36},{"t":300,"x":0,"y":0.29},{"t":300,"x":-100,"y":0.27},{"t":300,"x":-200,"y":0.27},{"t":300,"x":-300,"y":0.27},{"t":300,"x":-400,"y":0.27},{"t":300,"x":-500,"y":0.28},{"t":300,"x":-600,"y":0.29},{"t":300,"x":-700,"y":0.3},{"t":300,"x":-800,"y":0.32},{"t":300,"x":-900,"y":0.34},{"t":300,"x":-1000,"y":0.36},{"t":300,"x":-1100,"y":0.38},{"t":300,"x":-1200,"y":0.41},{"t":300,"x":-1300,"y":0.44},{"t":300,"x":-1400,"y":0.47},{"t":300,"x":-1500,"y":0.5},
{"t":300,"x":-1500,"y":0.5},{"t":300,"x":-1400,"y":0.47},{"t":300,"x":-1300,"y":0.44},{"t":300,"x":-1200,"y":0.41},{"t":300,"x":-1100,"y":0.38},{"t":300,"x":-1000,"y":0.36},{"t":300,"x":-900,"y":0.35},{"t":300,"x":-800,"y":0.65},{"t":300,"x":-700,"y":0.97},{"t":300,"x":-600,"y":1},{"t":300,"x":-500,"y":0.87},{"t":300,"x":-400,"y":0.72},{"t":300,"x":-300,"y":0.6},{"t":300,"x":-200,"y":0.48},{"t":300,"x":-100,"y":0.38},{"t":300,"x":0,"y":0.3},{"t":300,"x":100,"y":0.2},{"t":300,"x":200,"y":0.07},{"t":300,"x":300,"y":-0.05},{"t":300,"x":400,"y":-0.15},{"t":300,"x":500,"y":-0.25},{"t":300,"x":600,"y":-0.32},{"t":300,"x":700,"y":-0.39},{"t":300,"x":800,"y":-0.46},{"t":300,"x":900,"y":-0.52},{"t":300,"x":1000,"y":-0.59},{"t":300,"x":1100,"y":-0.65},{"t":300,"x":1200,"y":-0.72},{"t":300,"x":1300,"y":-0.8},{"t":300,"x":1400,"y":-0.89},{"t":300,"x":1500,"y":-1}
],
"e":[
{"s":"0.8Co/1.8Gd","x":140,"y":1090},{"s":"0.8Co/1.8Gd","x":160,"y":693},{"s":"0.8Co/1.8Gd","x":180,"y":493},{"s":"0.8Co/1.8Gd","x":200,"y":345},{"s":"0.8Co/1.8Gd","x":220,"y":244},{"s":"0.8Co/1.8Gd","x":240,"y":195},{"s":"0.8Co/1.8Gd","x":260,"y":146},{"s":"0.8Co/1.8Gd","x":280,"y":93},{"s":"0.8Co/1.8Gd","x":300,"y":70},
{"s":"0.5Co/1.8Gd","x":140,"y":956},{"s":"0.5Co/1.8Gd","x":160,"y":538},{"s":"0.5Co/1.8Gd","x":180,"y":287},{"s":"0.5Co/1.8Gd","x":200,"y":194},{"s":"0.5Co/1.8Gd","x":220,"y":96},{"s":"0.5Co/1.8Gd","x":240,"y":74},{"s":"0.5Co/1.8Gd","x":260,"y":53},{"s":"0.5Co/1.8Gd","x":280,"y":37},{"s":"0.5Co/1.8Gd","x":300,"y":9},
{"s":"0.5Co/2.0Gd","x":80,"y":1336},{"s":"0.5Co/2.0Gd","x":100,"y":921},{"s":"0.5Co/2.0Gd","x":120,"y":611},{"s":"0.5Co/2.0Gd","x":140,"y":406},{"s":"0.5Co/2.0Gd","x":160,"y":302},{"s":"0.5Co/2.0Gd","x":180,"y":200},{"s":"0.5Co/2.0Gd","x":200,"y":96},{"s":"0.5Co/2.0Gd","x":220,"y":78},{"s":"0.5Co/2.0Gd","x":240,"y":59},{"s":"0.5Co/2.0Gd","x":260,"y":41},{"s":"0.5Co/2.0Gd","x":280,"y":19},{"s":"0.5Co/2.0Gd","x":300,"y":15},
{"s":"0.5Co","x":80,"y":851},{"s":"0.5Co","x":100,"y":668},{"s":"0.5Co","x":120,"y":563},{"s":"0.5Co","x":140,"y":458},{"s":"0.5Co","x":160,"y":354},{"s":"0.5Co","x":180,"y":302},{"s":"0.5Co","x":200,"y":249},{"s":"0.5Co","x":220,"y":205},{"s":"0.5Co","x":240,"y":170},{"s":"0.5Co","x":260,"y":145},{"s":"0.5Co","x":280,"y":93},{"s":"0.5Co","x":300,"y":74},
{"s":"1Co/1Gd","x":80,"y":350},{"s":"1Co/1Gd","x":100,"y":300},{"s":"1Co/1Gd","x":120,"y":299},{"s":"1Co/1Gd","x":140,"y":248},{"s":"1Co/1Gd","x":160,"y":248},{"s":"1Co/1Gd","x":180,"y":198},{"s":"1Co/1Gd","x":200,"y":198},{"s":"1Co/1Gd","x":220,"y":198},{"s":"1Co/1Gd","x":240,"y":148},{"s":"1Co/1Gd","x":260,"y":147},{"s":"1Co/1Gd","x":280,"y":148},{"s":"1Co/1Gd","x":300,"y":96}
]
},
"hconcat":[
{"resolve":{"scale":{"color":"independent","stroke":"independent"},"legend":{"color":"independent","stroke":"independent"}},
"vconcat":[
{"resolve":{"scale":{"color":"independent","stroke":"independent"},"legend":{"color":"independent","stroke":"independent"}},
"hconcat":[
{"resolve":{"scale":{"color":"independent","stroke":"independent"},"legend":{"color":"independent","stroke":"independent"}},
"title":{"text":"a)","anchor":"start","fontSize":25,"dx":-10,"dy":22,"offset":0},
"vconcat":[{"title":{"text":"0.5Co","fontSize":20.5,"frame":"group","dx":-5,"offset":6},
"width":319,"height":213,"view":{"fill":"#EAEAF2","stroke":null},"data":{"name":"a"},
"encoding":{"x":{"field":"x","type":"quantitative","scale":{"domain":[-1660,1660],"nice":false},"axis":{"values":[-1500,-1000,-500,0,500,1000,1500],"format":"d","title":"Field (Oe)"}},
"y":{"field":"y","type":"quantitative","scale":{"domain":[-1.1,1.1],"nice":false},"axis":{"values":[-1,-0.75,-0.5,-0.25,0,0.25,0.5,0.75,1],"format":".2f","title":"Voltage (a.u.)"}}},
"layer":[
{"mark":{"type":"line","strokeWidth":1.6},"encoding":{"stroke":{"field":"t","type":"ordinal","scale":{"domain":[300,280,260,240,220,200,180,160,140,120,100,80],"range":["#64B5CD","#CCB974","#8172B2","#C44E52","#55A868","#4C72B0","#64B5CD","#CCB974","#8172B2","#C44E52","#55A868","#4C72B0"]},"legend":null},"order":{"value":null}}},
{"mark":{"type":"point","filled":true,"size":24,"opacity":1},"encoding":{"color":{"field":"t","type":"ordinal","scale":{"domain":[80,100,120,140,160,180,200,220,240,260,280,300],"range":["#4C72B0","#55A868","#C44E52","#8172B2","#CCB974","#64B5CD","#4C72B0","#55A868","#C44E52","#8172B2","#CCB974","#64B5CD"]},"legend":{"orient":"top-left","direction":"vertical","title":null,"symbolType":"M-0.6,-0.3H5.2V0.3H-0.6Z M3.2,0A1,1,0,1,1,1.2,0A1,1,0,1,1,3.2,0Z","symbolSize":25,"symbolStrokeWidth":0,"symbolOpacity":1,"labelFontSize":7.2,"labelColor":"#333333","labelExpr":"datum.label + 'K'","rowPadding":2,"labelOffset":17,"offset":5,"padding":0}}}}
]}]},
{"resolve":{"scale":{"color":"independent","stroke":"independent"},"legend":{"color":"independent","stroke":"independent"}},
"title":{"text":"b)","anchor":"start","fontSize":25,"dx":0,"dy":22,"offset":0},
"vconcat":[{"title":{"text":"1Co/1Gd","fontSize":20.5,"frame":"group","dx":-5,"offset":6},
"width":318,"height":213,"view":{"fill":"#EAEAF2","stroke":null},"data":{"name":"b"},
"encoding":{"x":{"field":"x","type":"quantitative","scale":{"domain":[-1660,1660],"nice":false},"axis":{"values":[-1500,-1000,-500,0,500,1000,1500],"format":"d","title":"Field (Oe)"}},
"y":{"field":"y","type":"quantitative","scale":{"domain":[-1.1,1.1],"nice":false},"axis":{"values":[-1,-0.75,-0.5,-0.25,0,0.25,0.5,0.75,1],"format":".2f","title":"Voltage (a.u.)"}}},
"layer":[
{"mark":{"type":"line","strokeWidth":1.6},"encoding":{"stroke":{"field":"t","type":"ordinal","scale":{"domain":[300,280,260,240,220,200,180,160,140,120,100,80],"range":["#64B5CD","#CCB974","#8172B2","#C44E52","#55A868","#4C72B0","#64B5CD","#CCB974","#8172B2","#C44E52","#55A868","#4C72B0"]},"legend":null},"order":{"value":null}}},
{"mark":{"type":"point","filled":true,"size":24,"opacity":1},"encoding":{"color":{"field":"t","type":"ordinal","scale":{"domain":[80,100,120,140,160,180,200,220,240,260,280,300],"range":["#4C72B0","#55A868","#C44E52","#8172B2","#CCB974","#64B5CD","#4C72B0","#55A868","#C44E52","#8172B2","#CCB974","#64B5CD"]},"legend":{"orient":"bottom-left","direction":"vertical","title":null,"symbolType":"M-1.4,-0.3H4.4V0.3H-1.4Z M2.4,0A1,1,0,1,1,0.4,0A1,1,0,1,1,2.4,0Z","symbolSize":25,"symbolStrokeWidth":0,"symbolOpacity":1,"labelFontSize":7.2,"labelColor":"#333333","labelExpr":"datum.label + 'K'","rowPadding":2,"labelOffset":15,"offset":7,"padding":0}}}}
]}]}
],"spacing":21},
{"resolve":{"scale":{"color":"independent","stroke":"independent"},"legend":{"color":"independent","stroke":"independent"}},
"hconcat":[
{"resolve":{"scale":{"color":"independent","stroke":"independent"},"legend":{"color":"independent","stroke":"independent"}},
"title":{"text":"c)","anchor":"start","fontSize":25,"dx":-10,"dy":22,"offset":0},
"vconcat":[{"title":{"text":"0.5Co/2Gd","fontSize":20.5,"frame":"group","dx":-5,"offset":6},
"width":319,"height":213,"view":{"fill":"#EAEAF2","stroke":null},"data":{"name":"c"},
"encoding":{"x":{"field":"x","type":"quantitative","scale":{"domain":[-1660,1660],"nice":false},"axis":{"values":[-1500,-1000,-500,0,500,1000,1500],"format":"d","title":"Field (Oe)"}},
"y":{"field":"y","type":"quantitative","scale":{"domain":[-1.1,1.1],"nice":false},"axis":{"values":[-1,-0.75,-0.5,-0.25,0,0.25,0.5,0.75,1],"format":".2f","title":"Voltage (a.u.)"}}},
"layer":[
{"mark":{"type":"line","strokeWidth":1.6},"encoding":{"stroke":{"field":"t","type":"ordinal","scale":{"domain":[300,280,260,240,220,200,180,160,140,120,100,80],"range":["#64B5CD","#CCB974","#8172B2","#C44E52","#55A868","#4C72B0","#64B5CD","#CCB974","#8172B2","#C44E52","#55A868","#4C72B0"]},"legend":null},"order":{"value":null}}},
{"mark":{"type":"point","filled":true,"size":24,"opacity":1},"encoding":{"color":{"field":"t","type":"ordinal","scale":{"domain":[80,100,120,140,160,180,200,220,240,260,280,300],"range":["#4C72B0","#55A868","#C44E52","#8172B2","#CCB974","#64B5CD","#4C72B0","#55A868","#C44E52","#8172B2","#CCB974","#64B5CD"]},"legend":{"orient":"bottom-left","direction":"vertical","title":null,"symbolType":"M-1.4,-0.3H4.4V0.3H-1.4Z M2.4,0A1,1,0,1,1,0.4,0A1,1,0,1,1,2.4,0Z","symbolSize":25,"symbolStrokeWidth":0,"symbolOpacity":1,"labelFontSize":7.2,"labelColor":"#333333","labelExpr":"datum.label + 'K'","rowPadding":2,"labelOffset":15,"offset":7,"padding":0}}}}
]}]},
{"resolve":{"scale":{"color":"independent","stroke":"independent"},"legend":{"color":"independent","stroke":"independent"}},
"title":{"text":"d)","anchor":"start","fontSize":25,"dx":0,"dy":22,"offset":0},
"vconcat":[{"title":{"text":"2Co/1Gd","fontSize":20.5,"frame":"group","dx":-5,"offset":6},
"width":320,"height":213,"view":{"fill":"#EAEAF2","stroke":null},"data":{"name":"d"},
"encoding":{"x":{"field":"x","type":"quantitative","scale":{"domain":[-1660,1660],"nice":false},"axis":{"values":[-1500,-1000,-500,0,500,1000,1500],"format":"d","title":"Field (Oe)"}},
"y":{"field":"y","type":"quantitative","scale":{"domain":[-1.1,1.1],"nice":false},"axis":{"values":[-1,-0.75,-0.5,-0.25,0,0.25,0.5,0.75,1],"format":".2f","title":"Voltage (a.u.)"}}},
"layer":[
{"mark":{"type":"line","strokeWidth":1.6},"encoding":{"stroke":{"field":"t","type":"ordinal","scale":{"domain":[300,280,260,240,220,200,180,160,140,120,100,80],"range":["#64B5CD","#CCB974","#8172B2","#C44E52","#55A868","#4C72B0","#64B5CD","#CCB974","#8172B2","#C44E52","#55A868","#4C72B0"]},"legend":null},"order":{"value":null}}},
{"mark":{"type":"point","filled":true,"size":24,"opacity":1},"encoding":{"color":{"field":"t","type":"ordinal","scale":{"domain":[80,100,120,140,160,180,200,220,240,260,280,300],"range":["#4C72B0","#55A868","#C44E52","#8172B2","#CCB974","#64B5CD","#4C72B0","#55A868","#C44E52","#8172B2","#CCB974","#64B5CD"]},"legend":{"orient":"bottom-left","direction":"vertical","title":null,"symbolType":"M-1.4,-0.3H4.4V0.3H-1.4Z M2.4,0A1,1,0,1,1,0.4,0A1,1,0,1,1,2.4,0Z","symbolSize":25,"symbolStrokeWidth":0,"symbolOpacity":1,"labelFontSize":7.2,"labelColor":"#333333","labelExpr":"datum.label + 'K'","rowPadding":2,"labelOffset":15,"offset":7,"padding":0}}}}
]}]}
],"spacing":21}
],"spacing":2},
{"resolve":{"scale":{"color":"independent","stroke":"independent"},"legend":{"color":"independent","stroke":"independent"}},
"vconcat":[
{"width":10,"height":65,"data":{"values":[]},"mark":"point"},
{"title":{"text":"e)","anchor":"start","fontSize":21,"offset":2},
"width":323,"height":262,"view":{"stroke":"#000000","strokeWidth":1.3},"data":{"name":"e"},
"resolve":{"axis":{"x":"independent","y":"independent"}},
"layer":[
{"mark":{"type":"line","strokeWidth":1},"encoding":{
"x":{"field":"x","type":"quantitative","scale":{"domain":[50,325],"nice":false,"zero":false},"axis":{"values":[50,100,150,200,250,300],"format":"d","title":"Temperature (K)","grid":false,"ticks":true,"tickSize":5,"tickColor":"#000000","tickWidth":1.2,"labelFontSize":14,"labelColor":"#000000","titleFontSize":20,"titleColor":"#000000","labelPadding":3,"titlePadding":10}},
"y":{"field":"y","type":"quantitative","scale":{"domain":[-55,1395],"nice":false,"zero":false},"axis":{"values":[0,250,500,750,1000,1250],"format":"d","title":"Coercivity (Oe)","grid":false,"ticks":true,"tickSize":5,"tickColor":"#000000","tickWidth":1.2,"labelFontSize":14,"labelColor":"#000000","titleFontSize":20,"titleColor":"#000000","labelPadding":3,"titlePadding":9}},
"stroke":{"field":"s","type":"nominal","scale":{"domain":["1Co/1Gd","0.5Co","0.5Co/2.0Gd","0.5Co/1.8Gd","0.8Co/1.8Gd"],"range":["#FF00FF","#00FF00","#00FFFF","#0000FF","#FF0000"]},"legend":null}}},
{"mark":{"type":"square","size":50,"opacity":1},"encoding":{
"x":{"field":"x","type":"quantitative","scale":{"domain":[50,325],"nice":false,"zero":false},"axis":null},
"y":{"field":"y","type":"quantitative","scale":{"domain":[-55,1395],"nice":false,"zero":false},"axis":null},
"color":{"field":"s","type":"nominal","scale":{"domain":["0.8Co/1.8Gd","0.5Co/1.8Gd","0.5Co/2.0Gd","0.5Co","1Co/1Gd"],"range":["#FF0000","#0000FF","#00FFFF","#00FF00","#FF00FF"]},"legend":{"orient":"top-right","title":null,"symbolType":"M-3.3,-0.15H3.3V0.15H-3.3Z M-1,-1H1V1H-1Z","symbolSize":49,"symbolStrokeWidth":0,"symbolOpacity":1,"labelFontSize":12.5,"labelColor":"#000000","rowPadding":2.5,"labelOffset":15,"offset":14,"padding":0}}}},
{"mark":{"type":"point","opacity":0},"encoding":{
"x":{"field":"x","type":"quantitative","scale":{"domain":[50,325],"nice":false,"zero":false},"axis":{"orient":"top","values":[50,100,150,200,250,300],"labels":false,"title":null,"grid":false,"domain":false,"ticks":true,"tickSize":-5,"tickColor":"#000000","tickWidth":1.2}},
"y":{"field":"y","type":"quantitative","scale":{"domain":[-55,1395],"nice":false,"zero":false},"axis":{"orient":"right","values":[0,250,500,750,1000,1250],"labels":false,"title":null,"grid":false,"domain":false,"ticks":true,"tickSize":-5,"tickColor":"#000000","tickWidth":1.2}}}}
]}
],"spacing":0}
],
"spacing":12
}
